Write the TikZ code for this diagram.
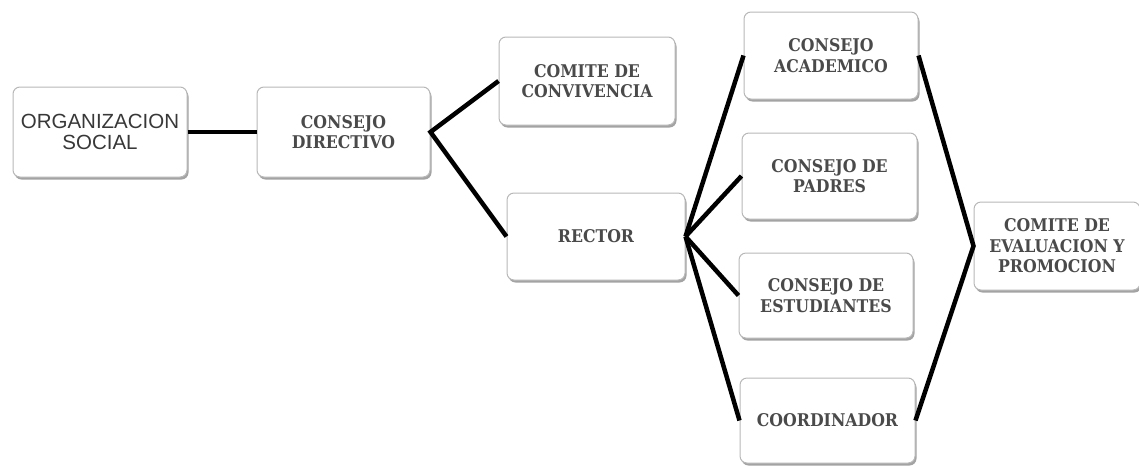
\documentclass[tikz,border=0pt]{standalone}
\usepackage{fontspec}
\setmainfont{DejaVu Serif Condensed}[BoldFont={DejaVu Serif Condensed Bold}]
\newfontfamily\orgfont{Liberation Sans}
\usetikzlibrary{shadows}
\definecolor{txt}{HTML}{4A4A4A}
\definecolor{orgtxt}{HTML}{383838}
\definecolor{edge}{HTML}{B8B8B8}
\tikzset{
  boxnode/.style={draw=edge, line width=1pt, fill=white, rounded corners=7pt,
    align=center, text=txt, inner sep=2pt,
    font=\bfseries\fontsize{17.5}{20.5}\selectfont,
    drop shadow={shadow xshift=1.5pt, shadow yshift=-2.5pt, fill=black!45, opacity=0.8}},
  conn/.style={line width=4.5pt, black},
}
\begin{document}
\begin{tikzpicture}[x=1pt,y=-1pt]
\useasboundingbox (0,0) rectangle (1139,466);
\node[boxnode, minimum width=174pt, minimum height=90pt, text=orgtxt, font=\orgfont\fontsize{20.5}{21.5}\selectfont] (org) at (100,132) {ORGANIZACION\\SOCIAL};
\node[boxnode, minimum width=173pt, minimum height=90pt] (cd) at (343.5,132) {CONSEJO\\DIRECTIVO};
\node[boxnode, minimum width=176pt, minimum height=88pt] (conv) at (587,81) {COMITE DE\\CONVIVENCIA};
\node[boxnode, minimum width=178pt, minimum height=87pt] (rector) at (596,236.5) {RECTOR};
\node[boxnode, minimum width=174pt, minimum height=87pt] (acad) at (831,55.5) {CONSEJO\\ACADEMICO};
\node[boxnode, minimum width=175pt, minimum height=86pt] (padres) at (829.5,176) {CONSEJO DE\\PADRES};
\node[boxnode, minimum width=174pt, minimum height=85pt] (est) at (826,295.5) {CONSEJO DE\\ESTUDIANTES};
\node[boxnode, minimum width=175pt, minimum height=85pt] (coord) at (827.5,420.5) {COORDINADOR};
\node[boxnode, minimum width=166pt, minimum height=88pt] (eval) at (1057,246) {COMITE DE\\EVALUACION Y\\PROMOCION};
\draw[conn] (org.east) -- (cd.west);
\draw[conn] (conv.west) -- (cd.east) -- (rector.west);
\draw[conn] (rector.east) -- (acad.west);
\draw[conn] (rector.east) -- (padres.west);
\draw[conn] (rector.east) -- (est.west);
\draw[conn] (rector.east) -- (coord.west);
\draw[conn] (acad.east) -- (eval.west) -- (coord.east);
\end{tikzpicture}
\end{document}
